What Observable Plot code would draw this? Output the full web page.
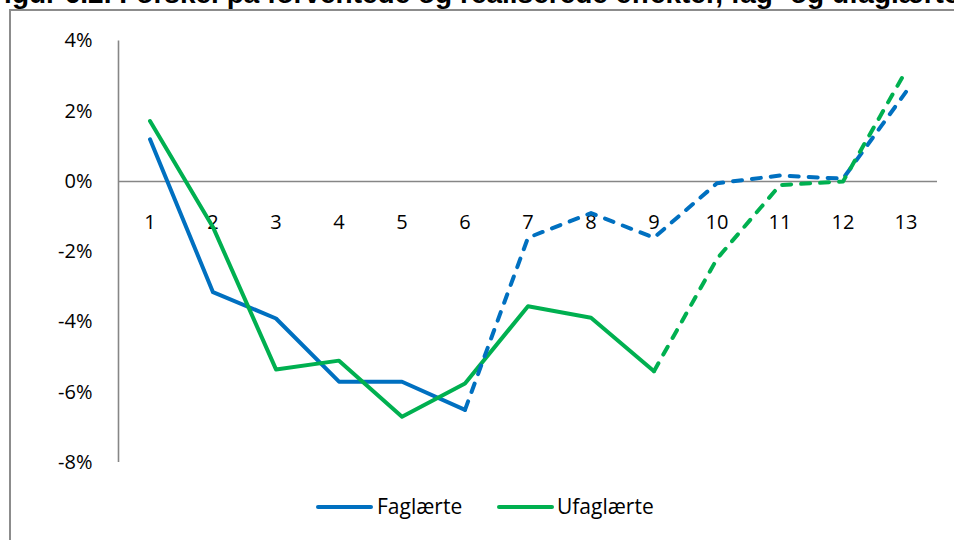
<!DOCTYPE html>
<html>
<head>
<meta charset="utf-8">
<script src="https://cdn.jsdelivr.net/npm/d3@7"></script>
<script src="https://cdn.jsdelivr.net/npm/@observablehq/plot@0.6"></script>
<style>
  html, body { margin: 0; padding: 0; background: #fff; }
  #wrap { position: relative; width: 954px; height: 540px; overflow: hidden; background: #fff; font-family: "Open Sans", Lato, sans-serif; }
  #frame { position: absolute; left: 9px; top: 9px; width: 1100px; height: 700px; border: 2px solid #8c8c8c; box-sizing: border-box; }
  #title { position: absolute; left: -13px; top: -22px; white-space: nowrap; font-family: "Liberation Sans", Arial, sans-serif; font-weight: bold; font-size: 28px; line-height: 32px; color: #000; }
  #chart { position: absolute; left: 0; top: 0; }
  .sw { position: absolute; height: 4px; border-radius: 2px; }
  .lab { position: absolute; font-size: 21px; line-height: 24px; color: #000; }
</style>
</head>
<body>
<div id="wrap">
  <div id="frame"></div>
  <div id="title">Figur 6.2. Forskel på forventede og realiserede effekter, fag- og ufaglærte</div>
  <div id="chart"></div>
  <div id="legend"></div>
</div>
<script>
// ---- data ----
const categories = [1, 2, 3, 4, 5, 6, 7, 8, 9, 10, 11, 12, 13];
const faglaerte  = [1.2, -3.15, -3.9, -5.7, -5.7, -6.5, -1.6, -0.9, -1.6, -0.05, 0.17, 0.08, 2.55];
const ufaglaerte = [1.72, -1.3, -5.35, -5.1, -6.7, -5.75, -3.55, -3.88, -5.4, -2.2, -0.1, 0.0, 3.15];
const seriesNames = ["Faglærte", "Ufaglærte"];
const seriesColors = ["#0070C0", "#00B050"];
const dashFrom = [6, 9];          // category where the dashed part begins
const yTicks = [-8, -6, -4, -2, 0, 2, 4];

const seriesValues = [faglaerte, ufaglaerte];
const solidRows = [], dashedRows = [];
seriesValues.forEach((vals, s) => {
  categories.forEach((c, i) => {
    const row = {series: seriesNames[s], x: c, y: vals[i]};
    if (c <= dashFrom[s]) solidRows.push(row);
    if (c >= dashFrom[s]) dashedRows.push(row);
  });
});

const chart = Plot.plot({
  width: 954,
  height: 490,
  marginLeft: 118,
  marginRight: 17,
  marginTop: 40.5,
  marginBottom: 28,
  x: {domain: [0.5, 13.5], axis: null},
  y: {domain: [-8, 4], axis: null},
  color: {domain: seriesNames, range: seriesColors},
  style: {fontFamily: "'Open Sans', Lato, sans-serif", fontSize: "20px", color: "#000", background: "transparent", overflow: "visible"},
  marks: [
    Plot.axisY(yTicks, {tickSize: 0, tickPadding: 26, tickFormat: d => d + "%", fontSize: 20, label: null}),
    Plot.ruleX([0.5], {y1: -8, y2: 4, stroke: "#868686", strokeWidth: 1.6}),
    Plot.ruleY([0], {stroke: "#868686", strokeWidth: 1.6}),
    Plot.text(categories, {x: d => d, y: 0, dy: 41, text: d => String(d), fontSize: 20, fill: "#000"}),
    ...seriesNames.map(name => Plot.line(solidRows.filter(r => r.series === name), {
      x: "x", y: "y", stroke: "series", strokeWidth: 4, strokeLinejoin: "round", strokeLinecap: "round"
    })),
    ...seriesNames.map(name => Plot.line(dashedRows.filter(r => r.series === name), {
      x: "x", y: "y", stroke: "series", strokeWidth: 4, strokeLinejoin: "round", strokeLinecap: "round",
      strokeDasharray: "9,10"
    }))
  ]
});
document.getElementById("chart").appendChild(chart);

// ---- legend ----
const legend = document.getElementById("legend");
const legendPos = [{sw: 316, lab: 377}, {sw: 497, lab: 557}];
seriesNames.forEach((name, i) => {
  const sw = document.createElement("div");
  sw.className = "sw";
  sw.style.left = legendPos[i].sw + "px";
  sw.style.width = "57px";
  sw.style.top = "505px";
  sw.style.background = seriesColors[i];
  legend.appendChild(sw);
  const lab = document.createElement("div");
  lab.className = "lab";
  lab.style.left = legendPos[i].lab + "px";
  lab.style.top = "494px";
  lab.textContent = name;
  legend.appendChild(lab);
});
</script>
</body>
</html>
